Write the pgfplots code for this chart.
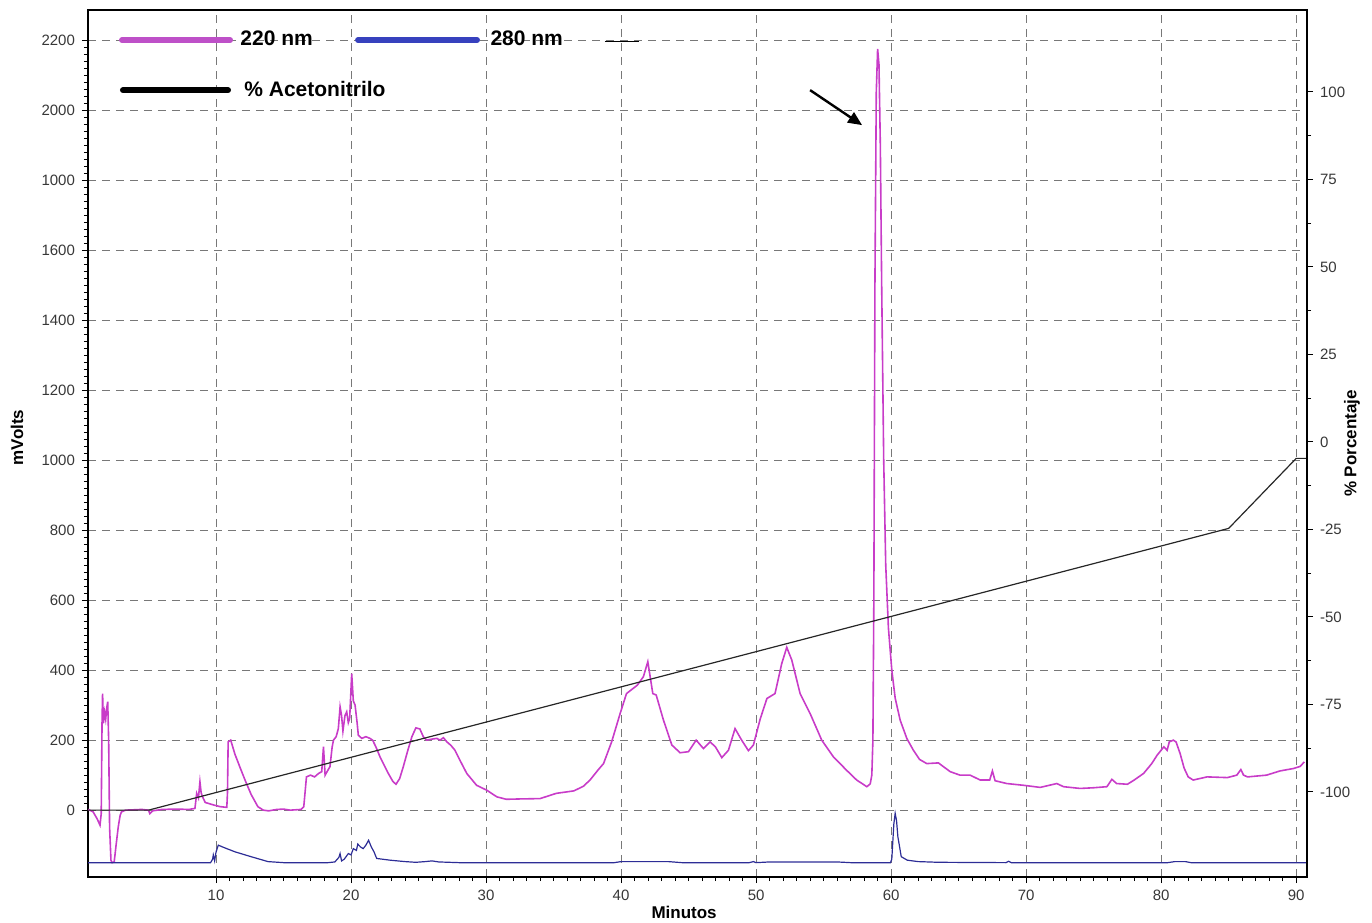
\documentclass[border=0pt]{standalone}
\usepackage{fontspec}
\setmainfont{Liberation Sans}
\usepackage{pgfplots}
\pgfplotsset{compat=1.18}
\usetikzlibrary{arrows.meta}
\definecolor{mag}{RGB}{200,60,200}
\definecolor{legmag}{RGB}{190,80,200}
\definecolor{navy}{RGB}{45,45,150}
\definecolor{legblue}{RGB}{55,65,190}
\definecolor{tickgray}{RGB}{55,55,55}
\definecolor{gridgray}{RGB}{120,120,120}
\begin{document}
\begin{tikzpicture}
\begin{axis}[
  scale only axis, width=609.5pt, height=433.5pt,
  xmin=0.52, xmax=90.8, ymin=-191, ymax=2286,
  xtick={10,20,...,90}, minor x tick num=9,
  ytick={0,200,...,2200},
  yticklabels={0,200,400,600,800,1000,1200,1400,1600,1000,2000,2200},
  minor y tick num=9,
  xtick pos=bottom, ytick pos=left,
  tick align=outside,
  major tick length=3pt, minor tick length=2pt,
  tick style={black, line width=0.5pt},
  axis line style={black, line width=0.8pt},
  grid=major,
  major grid style={gridgray, line width=0.5pt, dash pattern=on 4pt off 3pt},
  /pgf/number format/assume math mode=true,
  ticklabel style={font=\fontsize{7.5}{9}\selectfont, text=tickgray},
  xlabel={\textbf{Minutos}},
  xlabel style={at={(axis description cs:0.489,-0.0404)}, anchor=center, font=\fontsize{8.5}{10}\selectfont},
  ylabel={\textbf{mVolts}},
  ylabel style={at={(axis description cs:-0.0582,0.507)}, anchor=center, font=\fontsize{8.5}{10}\selectfont},
  clip=true,
]
% 220 nm
\addplot[mag, line width=0.8pt] coordinates {
(0.53,2) (0.9,-5) (1.2,-25) (1.41,-43) (1.5,-10) (1.56,250) (1.6,333) (1.66,248) (1.75,280) (1.83,260) (1.9,290) (1.98,310) (2.05,200) (2.12,-50) (2.22,-143) (2.3,-150) (2.46,-148) (2.6,-100) (2.76,-48) (2.9,-15) (3.0,-5) (3.3,0) (4.5,2) (5.0,0) (5.1,-10) (5.3,-2) (6,2) (7,3) (8,2) (8.44,5) (8.57,48) (8.7,35) (8.81,81) (8.9,50) (8.98,40) (9.2,22) (9.8,15) (10.3,10) (10.8,8) (10.85,50) (10.9,195) (11.09,200) (11.4,160) (11.8,120) (12.15,86) (12.6,45) (13.1,10) (13.5,0) (13.9,-2) (14.5,2) (15,3) (15.5,0) (16.3,2) (16.5,10) (16.7,95) (17.0,100) (17.3,95) (17.6,105) (17.83,110) (17.96,181) (18.08,100) (18.3,115) (18.44,124) (18.6,180) (18.7,200) (18.9,210) (19.06,233) (19.19,295) (19.3,270) (19.4,226) (19.55,270) (19.68,281) (19.8,250) (19.9,262) (20.05,390) (20.17,312) (20.3,300) (20.45,250) (20.54,214) (20.8,205) (21.1,210) (21.4,205) (21.6,200) (21.85,180) (22.15,152) (22.5,125) (22.76,105) (23.1,82) (23.33,74) (23.6,90) (23.87,124) (24.2,170) (24.5,209) (24.8,235) (25.1,232) (25.35,210) (25.6,200) (26.0,203) (26.35,205) (26.6,200) (26.84,207) (27.1,195) (27.4,185) (27.7,171) (28.1,140) (28.57,105) (29.3,71) (30.05,57) (30.8,38) (31.5,31) (32.5,32) (34.0,33) (35.2,48) (36.5,55) (37.2,68) (37.7,86) (38.3,115) (38.7,133) (39.3,195) (39.93,276) (40.4,333) (40.8,345) (41.2,357) (41.65,381) (41.98,424) (42.2,370) (42.35,333) (42.6,329) (43.14,257) (43.76,186) (44.37,164) (44.99,167) (45.56,200) (46.1,176) (46.6,195) (47.0,180) (47.46,150) (47.95,171) (48.44,233) (48.93,200) (49.43,170) (49.8,186) (50.3,260) (50.8,319) (51.4,333) (51.9,419) (52.27,465) (52.64,429) (53.26,333) (54.0,276) (54.86,200) (55.73,152) (56.7,114) (57.45,86) (58.2,67) (58.45,75) (58.57,100) (58.65,200) (58.72,600) (58.8,1500) (58.9,2050) (59.0,2175) (59.1,2130) (59.2,1900) (59.3,1500) (59.45,1000) (59.6,700) (59.8,520) (60.05,400) (60.3,320) (60.67,257) (61.16,205) (61.65,171) (62.1,145) (62.64,133) (63.5,135) (64.37,110) (65.1,100) (65.85,100) (66.6,86) (67.3,86) (67.5,112) (67.7,84) (68.57,76) (69.8,71) (71.04,65) (72.27,76) (72.77,67) (74.0,62) (75.0,64) (75.98,67) (76.35,88) (76.7,76) (77.5,74) (78.0,86) (78.7,105) (79.3,133) (79.7,157) (80.2,181) (80.44,171) (80.6,195) (80.9,200) (81.1,195) (81.4,162) (81.7,120) (82.0,95) (82.37,86) (83.4,95) (84.9,93) (85.6,100) (85.9,116) (86.1,100) (86.4,95) (87.8,100) (88.8,112) (89.8,119) (90.3,125) (90.6,138)
};
% 280 nm
\addplot[navy, line width=0.6pt] coordinates {
(0.53,-150) (9.6,-150) (9.75,-140) (9.8,-128) (9.9,-145) (10.0,-120) (10.17,-100) (10.6,-107) (11.4,-119) (12.6,-133) (13.85,-147) (15,-150) (18.3,-150) (18.8,-148) (19.1,-135) (19.19,-124) (19.3,-145) (19.5,-140) (19.8,-124) (20.0,-128) (20.17,-110) (20.4,-115) (20.5,-97) (20.7,-105) (20.9,-110) (21.1,-100) (21.3,-86) (21.5,-105) (21.7,-119) (21.9,-138) (22.9,-143) (24.0,-147) (24.8,-149) (25.5,-147) (26.0,-145) (26.5,-148) (28,-150) (39.5,-150) (40,-147) (43.5,-147) (44.5,-150) (49.5,-150) (49.8,-147) (50.0,-150) (51,-148) (56,-148) (57,-150) (59.95,-150) (60.05,-140) (60.2,-40) (60.3,-9) (60.4,-30) (60.5,-76) (60.75,-133) (61.2,-143) (62,-147) (63.5,-149) (68.5,-150) (68.7,-146) (68.9,-150) (80.5,-150) (81.0,-147) (81.8,-147) (82.2,-150) (90.8,-150)
};
% % Acetonitrilo
\addplot[black!85, line width=0.6pt] coordinates {
(0.53,0) (5,0) (85,805) (90,1005) (90.8,1005)
};
% legend
\draw[legmag, line width=3pt, line cap=round] (axis cs:3.04,2200) -- (axis cs:11.04,2200);
\node[anchor=west, inner sep=0pt, font=\fontsize{10.5}{12}\selectfont\bfseries] at (axis cs:11.78,2206) {220 nm};
\draw[legblue, line width=3pt, line cap=round] (axis cs:20.52,2200) -- (axis cs:29.33,2200);
\node[anchor=west, inner sep=0pt, font=\fontsize{10.5}{12}\selectfont\bfseries] at (axis cs:30.3,2206) {280 nm};
\draw[black, line width=0.6pt] (axis cs:38.8,2197) -- (axis cs:41.3,2197);
\draw[black, line width=3pt, line cap=round] (axis cs:3.11,2057) -- (axis cs:10.89,2057);
\node[anchor=west, inner sep=0pt, font=\fontsize{10.5}{12}\selectfont\bfseries] at (axis cs:12.07,2060) {\% Acetonitrilo};
% arrow
\draw[black, line width=1.2pt, -{Triangle[length=7pt, width=6pt]}] (axis cs:54.0,2057) -- (axis cs:57.85,1957);
\end{axis}
\begin{axis}[
  scale only axis, width=609.5pt, height=433.5pt,
  xmin=0.52, xmax=90.8, ymin=-124.3, ymax=123.4,
  axis x line=none, axis y line*=right,
  ytick={-100,-75,...,100}, minor y tick num=1,
  tick align=outside,
  major tick length=3pt, minor tick length=2pt,
  tick style={black, line width=0.5pt},
  axis line style={black, line width=0.8pt, -},
  /pgf/number format/assume math mode=true,
  ticklabel style={font=\fontsize{7.5}{9}\selectfont, text=tickgray},
  ylabel={\textbf{\% Porcentaje}},
  ylabel style={at={(axis description cs:1.0369,0.5)}, anchor=center, font=\fontsize{8.5}{10}\selectfont},
]
\end{axis}
\pgfresetboundingbox
\useasboundingbox (-44pt,-22.5pt) rectangle (642pt,438.5pt);
\end{tikzpicture}
\end{document}
